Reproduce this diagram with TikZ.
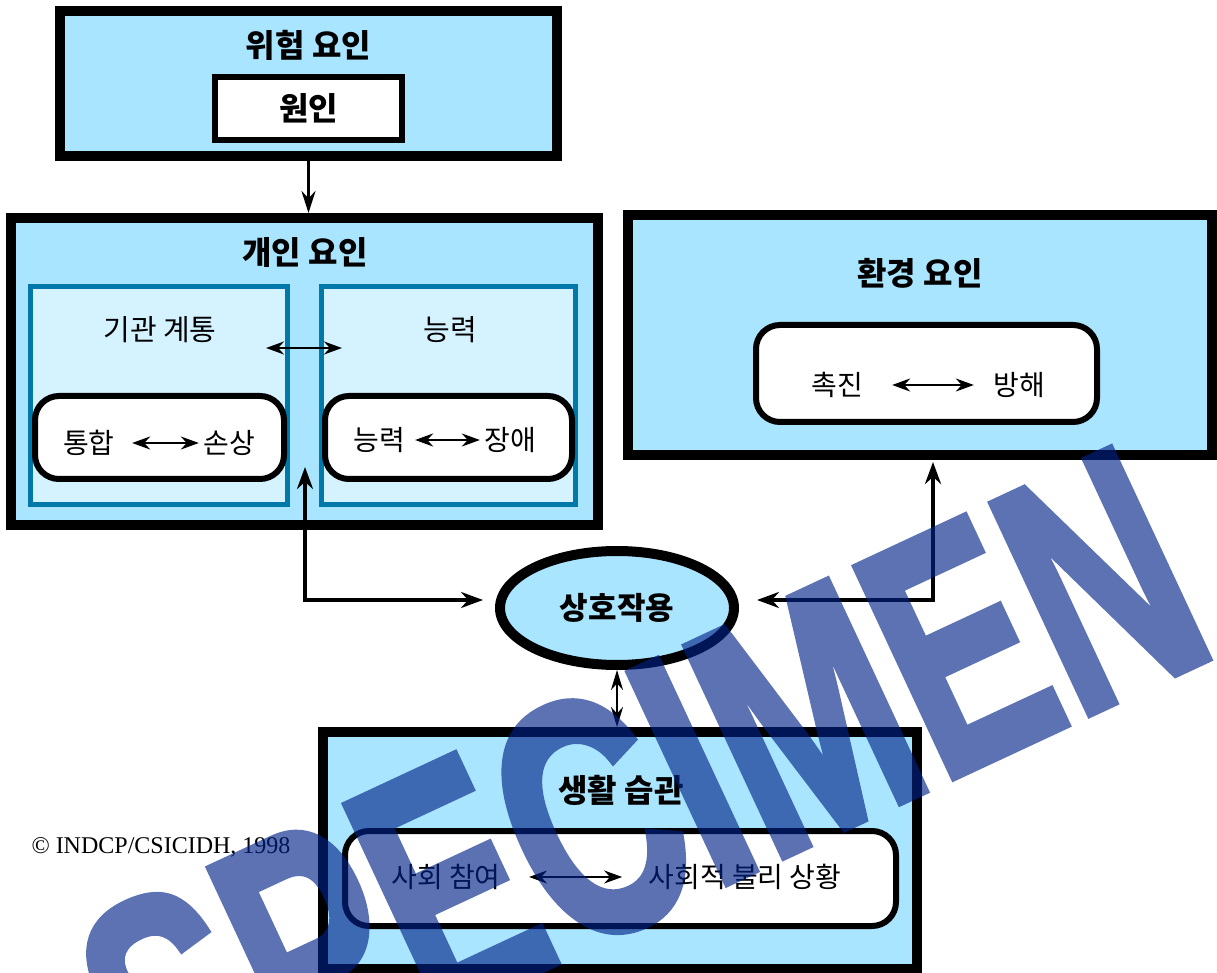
\documentclass[tikz,border=0pt]{standalone}
\usepackage{fontspec}
\setmainfont{Liberation Serif}
\newfontfamily\kr{Noto Sans CJK KR}
\newfontfamily\wmfont{Liberation Sans}[BoldFeatures={FakeBold=2.5}]
\usetikzlibrary{arrows.meta,positioning,shapes.geometric}
\definecolor{boxblue}{RGB}{170,229,255}
\definecolor{subblue}{RGB}{212,242,255}
\definecolor{subedge}{RGB}{0,120,170}
\definecolor{wmblue}{RGB}{0,34,136}
\tikzset{
  factor/.style={draw=black, line width=5pt, fill=boxblue, inner sep=0pt},
  subfactor/.style={draw=subedge, line width=2.5pt, fill=subblue, inner sep=0pt},
  pairbox/.style={draw=black, line width=3pt, fill=white, rounded corners=12pt, inner sep=0pt},
  causebox/.style={draw=black, line width=3pt, fill=white, inner sep=0pt},
  title/.style={font=\kr\bfseries\fontsize{16}{19}\selectfont, inner sep=0pt},
  subtitle/.style={font=\kr\fontsize{14.5}{18}\selectfont, inner sep=0pt},
  term/.style={font=\kr\fontsize{14}{17}\selectfont, inner sep=2pt},
  pairarrow/.style={{Stealth[length=9pt,width=6.5pt]}-{Stealth[length=9pt,width=6.5pt]}, line width=1pt},
  link/.style={{Stealth[length=11pt,width=8pt]}-{Stealth[length=11pt,width=8pt]}, line width=2pt},
  thinlink/.style={-{Stealth[length=11pt,width=7pt]}, line width=1.2pt},
  midlink/.style={{Stealth[length=10pt,width=6pt]}-{Stealth[length=10pt,width=6pt]}, line width=1.2pt}
}
\begin{document}
\begin{tikzpicture}[x=0.5pt,y=-0.5pt]
    \useasboundingbox (0,0) rectangle (1217,973);
    % Risk factors
    \node[factor, minimum width=248.5pt, minimum height=72.5pt] (risk) at (308.5,83.5) {};
    \node[title] (riskT) at (308.5,45) {위험 요인};
    \node[causebox, title, minimum width=93.5pt, minimum height=31.5pt] (cause) at (308.5,108.5) {원인};
    % Personal factors
    \node[factor, minimum width=293.5pt, minimum height=153.5pt] (personal) at (304.5,371.5) {};
    \node[title] (personalT) at (305,253) {개인 요인};
    \node[subfactor, minimum width=128.5pt, minimum height=109pt] (organ) at (159,395.5) {};
    \node[subtitle] (organT) at (160,330) {기관 계통};
    \node[subfactor, minimum width=127pt, minimum height=109pt] (ability) at (448.5,395.5) {};
    \node[subtitle] (abilityT) at (450,330) {능력};
    \node[pairbox, minimum width=124.5pt, minimum height=41.5pt] (organpair) at (159.5,437.5) {};
    \node[term] (organA) at (89,443) {통합};
    \node[term] (organB) at (229,443) {손상};
    \node[pairbox, minimum width=123.5pt, minimum height=41.5pt] (abilitypair) at (448.5,437.5) {};
    \node[term] (abilityA) at (379,440) {능력};
    \node[term] (abilityB) at (510,440) {장애};
    % Environmental factors
    \node[factor, minimum width=292pt, minimum height=120pt] (environ) at (920,335) {};
    \node[title] (environT) at (920,273) {환경 요인};
    \node[pairbox, minimum width=170.5pt, minimum height=48.5pt] (envpair) at (926.5,373.5) {};
    \node[term] (envA) at (837,385) {촉진};
    \node[term] (envB) at (1019,385) {방해};
    % Interaction
    \node[ellipse, draw=black, line width=5pt, fill=boxblue, minimum width=117pt, minimum height=57pt,
          inner sep=0pt, font=\kr\bfseries\fontsize{15.5}{18}\selectfont] (interact) at (617,608) {\raisebox{-2pt}{상호작용}};
    % Life habits
    \node[factor, minimum width=297pt, minimum height=118.5pt] (habits) at (620,850.5) {};
    \node[title] (habitsT) at (621,790) {생활 습관};
    \node[pairbox, minimum width=275.5pt, minimum height=47.5pt] (habitpair) at (620.5,878.5) {};
    \node[term] (habitA) at (446,877) {사회 참여};
    \node[term] (habitB) at (745,877) {사회적 불리 상황};
    \node[font=\fontsize{12}{14}\selectfont, inner sep=0pt] (copyright) at (161,847) {© INDCP/CSICIDH, 1998};
    % Arrows
    \coordinate (organR) at (266,348);
    \coordinate (abilityL) at (342,348);
    \coordinate (personalIn) at (305,467);
    \coordinate (environIn) at (933,462);
    \draw[pairarrow] (organR) -- (abilityL);
    \draw[pairarrow, shorten <=6.5pt] (organA) -- (organB);
    \draw[pairarrow, shorten <=3pt] (abilityA) -- (abilityB);
    \draw[pairarrow, shorten <=12.5pt, shorten >=7.5pt] (envA) -- (envB);
    \draw[pairarrow, shorten <=12pt, shorten >=11pt] (habitA) -- (habitB);
    \draw[thinlink] (risk.south) -- (risk.south |- personal.north);
    \draw[link, shorten >=6pt] (personalIn) |- ([yshift=4pt]interact.west);
    \draw[link, shorten >=9pt] (environIn) |- ([yshift=4pt]interact.east);
    \draw[midlink] (interact.south) -- (interact.south |- habits.north);
    % Watermark
    \begin{scope}[transparency group, opacity=0.64]
        \node[rotate=25, anchor=base, inner sep=0pt, text=wmblue,
              font=\wmfont\bfseries\fontsize{168}{168}\selectfont] (specimen) at (690,900) {\scalebox{0.67}[1]{SPECIMEN}};
    \end{scope}
\end{tikzpicture}
\end{document}
